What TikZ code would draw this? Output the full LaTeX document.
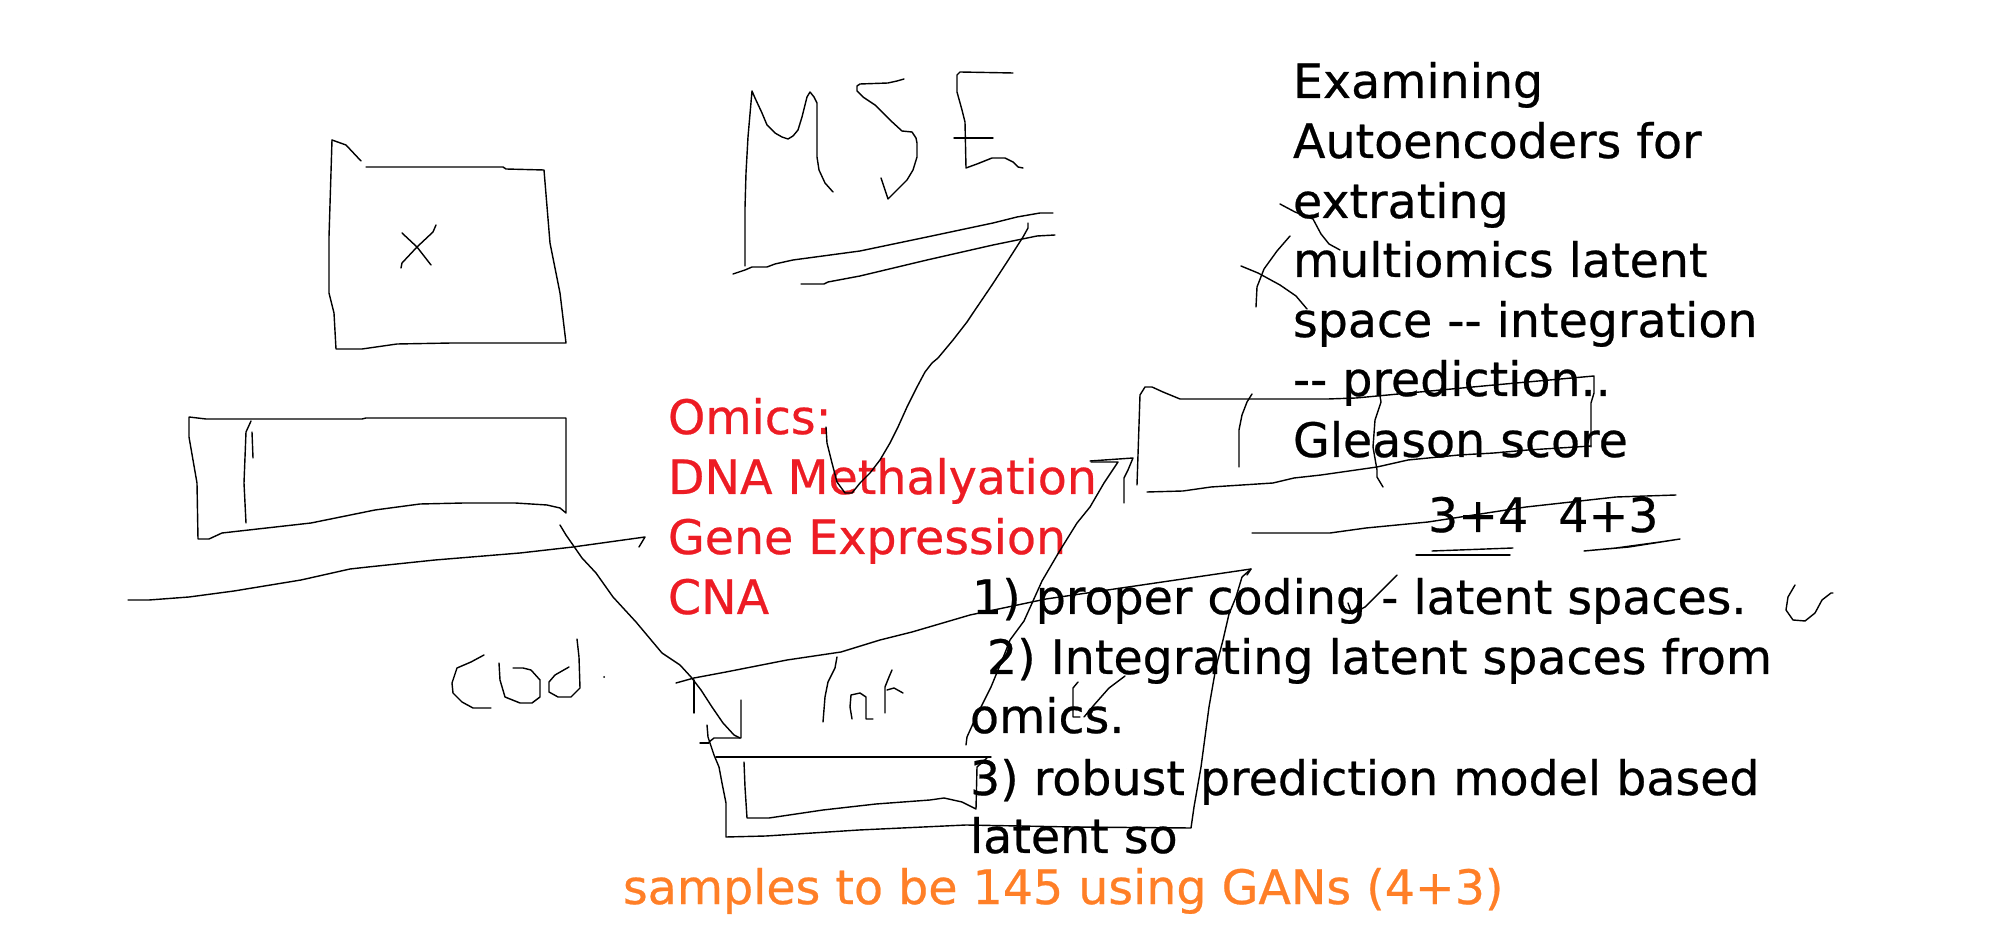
\documentclass[tikz,border=0pt]{standalone}
\usepackage{fontspec}
\setmainfont{DejaVu Sans}
\newfontfamily\sketchfont{DejaVu Sans}[FakeBold=0.5]
\definecolor{pred}{HTML}{ED1C24}
\definecolor{porange}{HTML}{FF7F27}
\tikzset{
  sk/.style={line width=0.4pt, line join=round, line cap=round},
  txt/.style={anchor=base west, inner sep=0pt, outer sep=0pt, font=\sketchfont\fontsize{13.5}{17}\selectfont},
  redtxt/.style={txt, text=pred},
  orgtxt/.style={txt, text=porange}
}
\begin{document}
\begin{tikzpicture}[x=0.01cm, y=-0.01cm]
\useasboundingbox (0,0) rectangle (2002,940);
\fill[white] (0,0) rectangle (2002,940);

% ---- texts ----
\node[txt] (t1) at (1293,98) {Examining};
\node[txt] (t2) at (1293,158) {Autoencoders for};
\node[txt] (t3) at (1293,218) {extrating};
\node[txt] (t4) at (1293,277) {multiomics latent};
\node[txt] (t5) at (1293,337) {space -{}- integration};
\node[txt] (t6) at (1293,396) {-{}- prediction..};
\node[txt] (t7) at (1293,457) {Gleason score};
\node[txt] (t8) at (1428,532) {3+4\ \ 4+3};

\node[txt] (l1) at (972,614) {1) proper coding - latent spaces.};
\node[txt] (l2) at (987,674) {2) Integrating latent spaces from};
\node[txt] (l3) at (970,733) {omics.};
\node[txt] (l4) at (970,795) {3) robust prediction model based};
\node[txt] (l5) at (970,853) {latent so};

\node[redtxt] (r1) at (668,434) {Omics:};
\node[redtxt] (r2) at (668,494) {DNA Methalyation};
\node[redtxt] (r3) at (668,554) {Gene Expression};
\node[redtxt] (r4) at (668,614) {CNA};

\node[orgtxt] (o1) at (623,904) {samples to be 145 using GANs (4+3)};

% ---- box x ----
\draw[sk] (332,140)--(346,145)--(361,161);
\draw[sk] (366,167)--(503,167)--(506,169)--(544,170)--(550,243)--(560,293)--(566,343)
  --(501,343)--(452,343)--(397,344)--(362,349)--(336,349)--(334,313)--(329,293)--(329,237)--(332,140);
\draw[sk] (402,233)--(417,247)--(431,265);
\draw[sk] (436,225)--(433,232)--(417,247)--(402,263)--(401,268);

% ---- MSE ----
\draw[sk] (745,266)--(745,208)--(746,173)--(748,137)--(752,91)--(755,98)--(762,113)--(767,125)--(775,133)
  --(782,137)--(788,139)--(793,136)--(798,130)--(802,117)--(807,97)--(810,92)--(814,97)--(817,103)
  --(817,157)--(819,170)--(825,183)--(833,192);
\draw[sk] (904,79)--(897,81)--(888,83)--(860,84)--(857,86)--(857,91)--(863,97)--(875,105)--(890,120)
  --(902,131)--(912,132)--(916,138)--(917,143)--(917,157)--(913,170)--(907,180)--(897,190)--(888,199)--(881,178);
\draw[sk] (1013,73)--(960,72)--(957,75)--(957,92)--(962,110)--(965,122)--(966,168)--(977,164)--(992,158)
  --(1005,158)--(1013,162)--(1018,167)--(1023,168);
\draw[sk] (954,138)--(993,138);
% lines under MSE
\draw[sk] (733,274)--(745,270)--(752,267)--(767,267)--(775,264)--(793,260)--(860,251)--(927,237)
  --(993,223)--(1017,217)--(1040,213)--(1053,213);
\draw[sk] (801,284)--(824,284)--(828,282)--(860,276)--(927,260)--(993,245)--(1037,236)--(1055,235);
% line from MSE down to omics
\draw[sk] (1028,223)--(1028,228)--(1023,237)--(1007,262)--(992,285)--(973,313)--(967,322)--(953,340)
  --(938,358)--(932,363)--(925,372)--(917,387)--(907,407)--(898,427)--(890,443)--(880,460)--(870,473)
  --(860,483)--(852,493)--(845,493)--(837,482)--(832,463)--(827,443)--(826,427);

% ---- box 2 ----
\draw[sk] (189,417)--(206,419)--(362,419)--(366,418)--(566,418)--(566,513)--(560,508)--(547,505)
  --(515,503)--(464,503)--(420,504)--(375,510)--(311,523)--(222,533)--(209,539)--(198,539)
  --(197,483)--(189,437)--(189,417);
\draw[sk] (251,421)--(246,432)--(244,483)--(246,523);
\draw[sk] (252,432)--(253,458);
% long wavy line
\draw[sk] (128,600)--(149,600)--(189,597)--(234,591)--(301,580)--(350,569)--(368,567)--(435,560)
  --(520,553)--(573,547)--(645,537)--(639,547);
% diagonal arrow to lat box
\draw[sk] (560,525)--(566,535)--(582,558)--(596,573)--(613,597)--(636,622)--(662,653)--(680,665)
  --(691,677)--(701,690)--(712,707)--(723,723)--(734,735)--(740,738);
\draw[sk] (741,700)--(741,738)--(714,738)--(709,742);
\draw[sk] (700,743)--(709,743);

% ---- cod ----
\draw[sk] (484,655)--(471,662)--(457,668)--(452,683)--(453,693)--(462,702)--(473,708)--(491,708);
\draw[sk] (499,663)--(500,680)--(505,697)--(520,703)--(532,703)--(540,697)--(540,680)--(531,670)--(523,668)--(513,668);
\draw[sk] (569,667)--(555,675)--(549,682)--(549,692)--(558,697)--(571,697)--(580,688)--(579,657)--(577,639);
\fill (604,677) circle (1);

% ---- lat box ----
\draw[sk] (676,683)--(694,678)--(726,672)--(787,660)--(841,652)--(880,640)--(912,632)--(970,615)
  --(1046,599)--(1135,586)--(1251,569)--(1247,575);
\draw[sk] (1251,569)--(1242,577)--(1236,597)--(1229,614)--(1223,640)--(1216,667)--(1209,707)
  --(1201,767)--(1194,807)--(1191,828)--(1073,827)--(966,825)--(859,830)--(766,836)--(726,837)
  --(726,803)--(722,783)--(719,767)--(714,755)--(708,737)--(707,725);
\draw[sk] (694,680)--(694,713);
\draw[sk] (716,757)--(780,757)--(991,757);
\draw[sk] (744,762)--(745,787)--(747,818)--(769,818)--(823,810)--(876,804)--(930,800)--(944,798)
  --(962,802)--(976,809)--(977,767)--(987,758);
% lat
\draw[sk] (837,657)--(835,668)--(828,682)--(825,697)--(823,722);
\draw[sk] (852,719)--(850,707)--(851,695)--(860,693)--(866,697)--(866,719)--(873,719);
\draw[sk] (892,670)--(889,677)--(885,687)--(885,713);
\draw[sk] (887,690)--(894,688)--(903,693);

% ---- line from lat box to Gleason box ----
\draw[sk] (966,745)--(967,737)--(976,717)--(991,687)--(1005,653)--(1010,640)--(1024,621)--(1042,581)
  --(1059,552)--(1077,523)--(1090,507)--(1104,483)--(1118,462)--(1091,462);
\draw[sk] (1090,461)--(1133,458)--(1128,470)--(1124,478)--(1124,503);

% ---- Gleason box ----
\draw[sk] (1137,485)--(1140,395)--(1145,387)--(1152,387)--(1163,392)--(1180,399)--(1328,399)
  --(1356,398)--(1494,385)--(1594,376)--(1594,393)--(1591,403)--(1591,447);
\draw[sk] (1147,492)--(1183,491)--(1211,487)--(1242,485)--(1273,483)--(1294,478)--(1321,475)
  --(1356,470)--(1377,467)--(1408,460)--(1459,455)--(1494,453)--(1528,450)--(1591,446);
\draw[sk] (1252,394)--(1247,402)--(1242,415)--(1239,430)--(1239,467);
\draw[sk] (1379,390)--(1381,402)--(1375,420)--(1373,447)--(1377,470)--(1377,477)--(1383,487);

% ---- line under Gleason, underlines ----
\draw[sk] (1252,533)--(1330,533)--(1366,528)--(1428,522)--(1526,507)--(1616,497)--(1676,495);
\draw[sk] (1416,555)--(1510,555);
\draw[sk] (1432,551)--(1459,550)--(1513,548);
\draw[sk] (1584,551)--(1616,548)--(1660,542)--(1680,539)--(1629,547)--(1584,551);

% ---- scribbles ----
\draw[sk] (1280,204)--(1295,212)--(1313,219)--(1321,234)--(1329,244)--(1340,250);
\draw[sk] (1290,236)--(1277,251)--(1264,269)--(1257,287)--(1256,307);
\draw[sk] (1241,266)--(1258,273)--(1280,285)--(1296,296)--(1307,309);
\draw[sk] (1397,575)--(1380,592)--(1365,607)--(1352,614)--(1348,603);
\draw[sk] (1795,585)--(1788,597)--(1786,610)--(1793,620)--(1805,621)--(1815,613)--(1822,600)--(1831,593)--(1833,593);
\draw[sk] (1078,682)--(1073,688)--(1073,717)--(1080,717);
\draw[sk] (1125,676)--(1109,688)--(1094,705)--(1084,717);
\end{tikzpicture}
\end{document}
